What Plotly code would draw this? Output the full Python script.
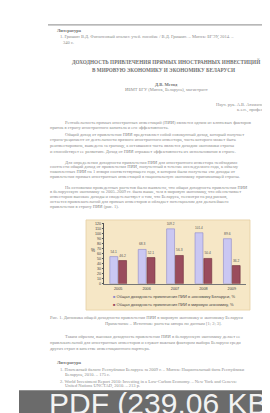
import plotly.graph_objects as go

# ---------------- data ----------------
years = ["2005", "2006", "2007", "2008", "2009"]
belarus_yield = [54.1, 68.3, 109.2, 101.4, 89.6]   # Общая доходность ПИИ в экономику Беларуси, %
world_yield = [46.2, 52.1, 56.3, 50.4, 36.2]       # Общая доходность ПИИ в мировую экономику, %
y_ticks = list(range(0, 121, 10))
series_names = [
    "Общая доходность привлечения ПИИ в экономику Беларуси, %",
    "Общая доходность привлечения ПИИ в мировую экономику, %",
]

W, H = 270, 413
def px(x):
    return x / W
def py(y):
    return 1 - y / H

LAV = "#CAC7F2"
LAV_LINE = "#8D89C9"
MAR = "#9A4C5D"
MAR_LINE = "#6D2D3B"

fig = go.Figure()
fig.add_trace(go.Bar(
    x=years, y=belarus_yield, name=series_names[0],
    marker=dict(color=LAV, line=dict(color=LAV_LINE, width=0.6)),
    text=[f"{v:.1f}" for v in belarus_yield], textposition="outside",
    textfont=dict(size=3.3, color="#555", family="Liberation Sans"),
    cliponaxis=False, showlegend=False,
))
fig.add_trace(go.Bar(
    x=years, y=world_yield, name=series_names[1],
    marker=dict(color=MAR, line=dict(color=MAR_LINE, width=0.6)),
    text=[f"{v:.1f}" for v in world_yield], textposition="outside",
    textfont=dict(size=3.3, color="#555", family="Liberation Sans"),
    cliponaxis=False, showlegend=False,
))

shapes = [
    # chart panel
    dict(type="rect", xref="paper", yref="paper", x0=px(78), x1=px(242), y0=py(303), y1=py(212),
         fillcolor="#F6E7C6", line=dict(color="#E6CFA2", width=0.8), layer="below"),
    # top rule
    dict(type="line", xref="paper", yref="paper", x0=px(40), x1=px(270), y0=py(15), y1=py(15),
         line=dict(color="#a0a0a0", width=1.4)),
    # PDF banner
    dict(type="rect", xref="paper", yref="paper", x0=px(11), x1=px(272), y0=py(415), y1=py(384),
         fillcolor="#6B6B6B", line=dict(width=0)),
]

SERIF = "Liberation Serif"
TXT = "#8c8c8c"
BOLD = "#707070"
lines = [
    (47, 21, "<b>Литература</b>", 4.5, "left", BOLD),
    (50, 27.5, "1. Гришин В.Д. Финансовый анализ: учеб. пособие / В.Д. Гришин. – Минск: БГЭУ, 2014. –", 4.5, "left", TXT),
    (53, 33, "340 с.", 4.5, "left", TXT),
    (158, 52.3, "<b>ДОХОДНОСТЬ ПРИВЛЕЧЕНИЯ ПРЯМЫХ ИНОСТРАННЫХ ИНВЕСТИЦИЙ</b>", 5.2, "center", BOLD),
    (155, 61, "<b>В МИРОВУЮ ЭКОНОМИКУ И ЭКОНОМИКУ БЕЛАРУСИ</b>", 5.2, "center", BOLD),
    (158, 75, "<b>Д.В. Метод</b>", 4.5, "center", BOLD),
    (158, 80.5, "ИБМТ БГУ (Минск, Беларусь), магистрант", 4.5, "center", TXT),
    (206, 95, "Науч. рук. А.В. Атаманов", 4.5, "left", TXT),
    (227, 101, "к.э.н., профессор", 4.5, "left", TXT),
    (55, 113.3, "Рентабельность прямых иностранных инвестиций (ПИИ) является одним из ключевых факторов", 4.5, "left", TXT),
    (40, 119, "приток в страну иностранного капитала и его эффективность.", 4.5, "left", TXT),
    (55, 126, "Общий доход от привлечения ПИИ представляет собой совокупный доход, который получает", 4.5, "left", TXT),
    (40, 131.7, "страна-реципиент от деятельности прямого иностранного инвестора, часть которого может быть", 4.5, "left", TXT),
    (40, 137, "реинвестирована, выведена за границу, а оставшаяся часть является доходом экономики страны", 4.5, "left", TXT),
    (40, 142.5, "и способствует ее развитию. Доход от ПИИ отражает эффективность их использования в стране.", 4.5, "left", TXT),
    (55, 154, "Для определения доходности привлечения ПИИ для иностранного инвестора необходимо", 4.5, "left", TXT),
    (40, 158.5, "соотнести общий доход от привлечения ПИИ, полученный в течение исследуемого года, к объему", 4.5, "left", TXT),
    (40, 163.5, "накопленных ПИИ на 1 января соответствующего года, в котором были получены эти доходы от", 4.5, "left", TXT),
    (40, 168.5, "привлечения прямых иностранных инвестиций в национальную экономику принимающей страны.", 4.5, "left", TXT),
    (55, 179.3, "На основании проведенных расчетов было выявлено, что общая доходность привлечения ПИИ", 4.5, "left", TXT),
    (40, 183.5, "в белорусскую экономику за 2005–2009 гг. была выше, чем в мировую экономику, что обеспечивает", 4.5, "left", TXT),
    (40, 188.5, "инвесторам высокие доходы и свидетельствует о том, что Беларусь, несмотря на ряд рисков,", 4.5, "left", TXT),
    (40, 193.5, "остается привлекательной для прямых инвесторов и обладает потенциалом для дальнейшего", 4.5, "left", TXT),
    (40, 198.5, "привлечения в страну ПИИ (рис. 1).", 4.5, "left", TXT),
    (40, 310.7, "Рис. 1. Динамика общей доходности привлечения ПИИ в мировую экономику и экономику Беларуси", 4.5, "left", TXT),
    (155, 316.7, "Примечание – Источник: расчеты автора по данным [1; 2; 3].", 4.5, "center", TXT),
    (55, 330, "Таким образом, высокая доходность привлечения ПИИ в белорусскую экономику делает ее", 4.5, "left", TXT),
    (40, 336, "привлекательной для иностранных инвесторов и служит важным фактором выбора Беларуси среди", 4.5, "left", TXT),
    (40, 341.7, "других стран в качестве инвестиционного партнера.", 4.5, "left", TXT),
    (47, 356, "<b>Литература</b>", 4.5, "left", BOLD),
    (50, 363.3, "1. Платежный баланс Республики Беларусь за 2009 г. – Минск: Национальный банк Республики", 4.5, "left", TXT),
    (55, 369, "Беларусь, 2010. – 175 с.", 4.5, "left", TXT),
    (50, 375, "2. World Investment Report 2010: Investing in a Low-Carbon Economy. – New York and Geneva:", 4.5, "left", TXT),
    (55, 379.8, "United Nations UNCTAD, 2010. – 213 p.", 4.5, "left", TXT),
]

annotations = []
for x, y, t, s, anc, col in lines:
    annotations.append(dict(xref="paper", yref="paper", x=px(x), y=py(y), text=t, showarrow=False,
                            xanchor=anc, yanchor="middle", font=dict(family=SERIF, size=s, color=col)))

# chart legend (two rows) and axis title
annotations.append(dict(xref="paper", yref="paper", x=px(103), y=py(289), showarrow=False,
                        xanchor="left", yanchor="middle",
                        text=f'<span style="color:{LAV_LINE}">■</span> ' + series_names[0],
                        font=dict(family="Liberation Sans", size=4, color="#444")))
annotations.append(dict(xref="paper", yref="paper", x=px(103), y=py(297.5), showarrow=False,
                        xanchor="left", yanchor="middle",
                        text=f'<span style="color:{MAR}">■</span> ' + series_names[1],
                        font=dict(family="Liberation Sans", size=4, color="#444")))
annotations.append(dict(xref="paper", yref="paper", x=px(85), y=py(243), showarrow=False,
                        xanchor="center", yanchor="middle", text="%",
                        font=dict(family="Liberation Sans", size=4.5, color="#444")))
# PDF banner text
annotations.append(dict(xref="paper", yref="paper", x=px(39), y=py(397), showarrow=False,
                        xanchor="left", yanchor="middle", text="PDF (239.06 KB)",
                        font=dict(family="Liberation Sans", size=30, color="#F2F2F2")))

fig.update_layout(
    width=W, height=H,
    margin=dict(l=0, r=0, t=0, b=0),
    paper_bgcolor="white", plot_bgcolor="rgba(0,0,0,0)",
    barmode="group", bargap=0.38, bargroupgap=0.1,
    showlegend=False,
    shapes=shapes, annotations=annotations,
    xaxis=dict(domain=[px(96), px(238)], showgrid=False, showline=True, linecolor="#777", linewidth=0.6,
               ticks="", tickfont=dict(family="Liberation Sans", size=3.8, color="#444"),
               ticklabelstandoff=1),
    yaxis=dict(domain=[py(276.5), py(215.5)], range=[0, 120], tickvals=y_ticks, showgrid=False,
               showline=True, linecolor="#555", linewidth=0.6, ticks="outside", ticklen=1.5,
               tickcolor="#555", tickfont=dict(family="Liberation Sans", size=3.6, color="#444"),
               zeroline=False),
)

fig.write_html("out.html")
